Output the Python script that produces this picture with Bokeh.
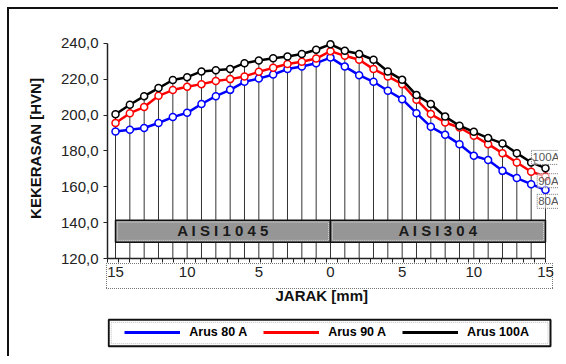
import numpy as np
from bokeh.plotting import figure
from bokeh.layouts import column
from bokeh.models import Range1d, FixedTicker, Label, Legend, LegendItem, Title
from bokeh.core.properties import value
from bokeh.embed import file_html
from bokeh.resources import INLINE

# ---------------- data ----------------
jarak = list(range(-15, 16))  # mm, negative side = AISI 1045, positive = AISI 304
x_tick_vals = [-15, -10, -5, 0, 5, 10, 15]
x_tick_labels = ["15", "10", "5", "0", "5", "10", "15"]
y_tick_vals = [120, 140, 160, 180, 200, 220, 240]
y_tick_labels = ["120,0", "140,0", "160,0", "180,0", "200,0", "220,0", "240,0"]

arus_80 = [190.9, 191.8, 192.8, 195.6, 198.9, 201.3, 206.2, 210.6, 214.1, 218.6, 220.4,
           222.7, 225.7, 227.1, 229.0, 232.1, 227.1, 222.3, 218.6, 213.6, 208.9, 201.1,
           193.5, 189.0, 183.8, 177.3, 174.9, 168.9, 164.9, 161.5, 158.2]
arus_90 = [195.6, 201.1, 204.5, 210.8, 214.0, 215.8, 217.3, 219.0, 220.1, 221.6, 224.2,
           226.4, 228.5, 229.8, 231.6, 235.7, 233.1, 230.9, 225.7, 221.6, 217.3, 208.6,
           200.6, 195.9, 193.1, 188.5, 183.8, 178.8, 173.6, 168.4, 165.8]
arus_100 = [200.5, 205.8, 210.6, 215.1, 219.6, 221.2, 224.4, 225.1, 225.7, 229.0, 230.5,
            231.8, 232.7, 234.1, 236.5, 239.5, 235.9, 234.1, 230.9, 224.4, 219.7, 211.2,
            206.2, 199.2, 194.1, 190.7, 187.2, 184.2, 178.8, 173.6, 170.4]
series_names = ["Arus 80 A", "Arus 90 A", "Arus 100A"]
series_colors = ["#0000ff", "#ff0000", "#000000"]
end_labels = ["80A", "90A", "100A"]
materials = ["A I S I 1 0 4 5", "A I S I 3 0 4"]
material_from = [-15, 0]
material_to = [0, 15]

# ---------------- layout constants ----------------
W = 558
PX_MM = 14.333
PX_HVN = 1.792
LEFT, TOP = 107, 38
FW, FH = W - LEFT, 220
MAIN_H = 310
LEG_H = 46
x0 = -15 - 8 / PX_MM
x1 = x0 + FW / PX_MM
y0 = 120
y1 = y0 + FH / PX_HVN
FONT = "Liberation Sans"

solid = "linear-gradient(#111,#111)"
dot_h = "repeating-linear-gradient(to right,#777 0 1px,transparent 1px 2px)"
dot_v = "repeating-linear-gradient(to bottom,#777 0 1px,transparent 1px 2px)"
main_css = {
    "background-image": ",".join([solid, solid, dot_h, dot_h, dot_v, dot_v]),
    "background-size": "2px 100%, 100% 2px, 447px 1px, 447px 1px, 1px 26px, 1px 26px",
    "background-position": "7px 7px, 7px 7px, 106px 263px, 106px 288px, 106px 263px, 552px 263px",
    "background-repeat": "no-repeat",
}

p = figure(frame_width=FW, frame_height=FH, output_backend="svg", toolbar_location=None,
           x_range=Range1d(x0, x1), y_range=Range1d(y0, y1),
           min_border_left=LEFT, min_border_right=0, min_border_top=TOP,
           min_border_bottom=MAIN_H - TOP - FH,
           background_fill_color="white", border_fill_color=None)
p.styles = main_css
p.outline_line_color = None
p.xgrid.grid_line_color = None
p.ygrid.grid_line_color = None

# y axis
ya = p.yaxis[0]
ya.ticker = FixedTicker(ticks=y_tick_vals)
ya.major_label_overrides = dict(zip(y_tick_vals, y_tick_labels))
ya.bounds = (120, 240)
ya.axis_line_width = 1.5
ya.axis_line_color = "#222"
ya.major_tick_out = 4
ya.major_tick_in = 0
ya.major_tick_line_color = "#222"
ya.minor_tick_line_color = None
ya.major_label_text_font = FONT
ya.major_label_text_font_size = "15px"
ya.major_label_text_color = "#222"
ya.major_label_standoff = 5
ya.axis_label = "KEKERASAN [HVN]"
ya.axis_label_text_font = FONT
ya.axis_label_text_font_size = "15px"
ya.axis_label_text_font_style = "bold"
ya.axis_label_text_color = "#111"
ya.axis_label_standoff = 14

# x axis
xa = p.xaxis[0]
xa.ticker = FixedTicker(ticks=x_tick_vals,
                        minor_ticks=list(np.arange(x0, 15.05, 10.95 / PX_MM)))
xa.major_label_overrides = dict(zip(x_tick_vals, x_tick_labels))
xa.bounds = (x0, 15)
xa.axis_line_width = 1.5
xa.axis_line_color = "#222"
xa.major_tick_line_color = None
xa.major_tick_out = 0
xa.major_tick_in = 0
xa.minor_tick_out = 4
xa.minor_tick_in = 0
xa.minor_tick_line_color = "#222"
xa.major_label_text_font = FONT
xa.major_label_text_font_size = "15px"
xa.major_label_text_color = "#222"
xa.major_label_standoff = 4

# drop lines
top = np.maximum(np.maximum(arus_80, arus_90), arus_100)
p.segment(x0=jarak, y0=[120] * len(jarak), x1=jarak, y1=top, line_color="#333", line_width=1)

# material bands
band_lo, band_hi = 129.0, 141.4
p.quad(left=material_from, right=material_to, bottom=band_lo, top=band_hi,
       fill_color="#969696", line_color="#111", line_width=1.5)
ix, iy = 2 / PX_MM, 2 / PX_HVN
p.quad(left=[a + ix for a in material_from], right=[b - ix for b in material_to],
       bottom=band_lo + iy, top=band_hi - iy, fill_color=None,
       line_color="#dddddd", line_width=1, line_dash="1 1")
p.text(x=[(a + b) / 2 for a, b in zip(material_from, material_to)],
       y=[(band_lo + band_hi) / 2 + 0.6] * 2, text=materials,
       text_font=value(FONT), text_font_style="bold", text_font_size="15px",
       text_align="center", text_baseline="middle", text_color="#1a1a1a")

# series
for vals, col in zip([arus_80, arus_90, arus_100], series_colors):
    p.line(jarak, vals, line_color=col, line_width=2.5)
    p.scatter(jarak, vals, marker="circle", size=7, fill_color="white",
              line_color=col, line_width=1.5)

# end labels (text boxes at the right end of each curve)
end_pos = [(14.42, 151.9), (14.42, 163.4), (14.02, 176.4)]
for (lx, ly), t in zip(end_pos, end_labels):
    p.add_layout(Label(x=lx, y=ly, text=t, text_font=FONT, text_font_size="11.5px",
                       text_color="#555", text_baseline="middle", text_align="left",
                       border_line_color="#777", border_line_dash="1 1",
                       background_fill_color="white", background_fill_alpha=0.6,
                       padding=1))

# x axis title
p.add_layout(Title(text="JARAK [mm]", align="left", offset=168, standoff=11,
                   text_font=FONT, text_font_size="15px", text_font_style="bold",
                   text_color="#111"), "below")

# ---------------- legend strip (pixel-space figure under the chart) ----------------
q = figure(frame_width=FW, frame_height=LEG_H, output_backend="svg", toolbar_location=None,
           x_range=Range1d(LEFT, W), y_range=Range1d(0, LEG_H),
           x_axis_location=None, y_axis_location=None, min_border=0,
           min_border_left=LEFT, min_border_right=0, min_border_top=0, min_border_bottom=0,
           background_fill_color=None, border_fill_color=None)
q.styles = {"background-image": solid, "background-size": "2px 100%",
            "background-position": "7px 0", "background-repeat": "no-repeat"}
q.outline_line_color = None
q.xgrid.grid_line_color = None
q.ygrid.grid_line_color = None
bx0, bx1, by0, by1 = 108.2, 550, LEG_H - 35.7, LEG_H - 9.3
q.quad(left=[bx0], right=[bx1], bottom=[by0], top=[by1], fill_color="white",
       line_color="#111", line_width=2)
q.quad(left=[bx0 + 2.5], right=[bx1 - 2.5], bottom=[by0 + 2.5], top=[by1 - 2.5],
       fill_color=None, line_color="#bbbbbb", line_width=1, line_dash="1 1")
items = []
for vals, col, name in zip([arus_80, arus_90, arus_100], series_colors, series_names):
    # same series, out of this strip's view: only its legend swatch shows
    r = q.line(jarak, vals, line_color=col, line_width=3)
    items.append(LegendItem(label=name, renderers=[r]))
legend = Legend(items=items, orientation="horizontal", location=(124.3 - LEFT, 24.3 - 10),
                glyph_width=56, glyph_height=20, label_height=20,
                label_standoff=9, spacing=16, padding=0, margin=0,
                label_text_font=FONT, label_text_font_size="12.5px",
                label_text_font_style="bold", label_text_color="#000",
                background_fill_alpha=0, border_line_color=None)
q.add_layout(legend, "center")

layout = column(p, q, spacing=0)
open("out.html", "w").write(file_html(layout, INLINE))
